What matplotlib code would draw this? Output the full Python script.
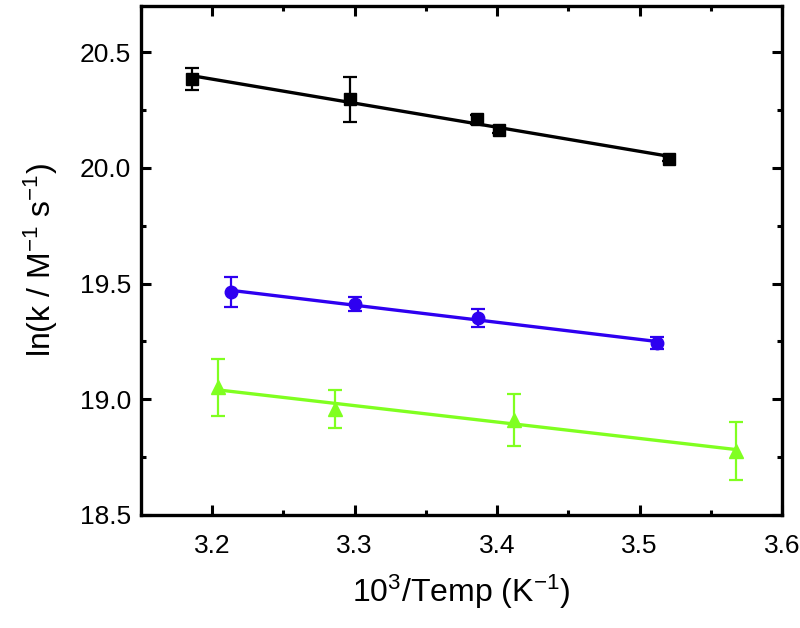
import numpy as np
import matplotlib.pyplot as plt
from matplotlib.ticker import MultipleLocator

plt.rcParams['font.family'] = ['Liberation Sans', 'DejaVu Sans']
plt.rcParams['mathtext.fontset'] = 'custom'
plt.rcParams['mathtext.rm'] = 'Liberation Sans'
plt.rcParams['mathtext.default'] = 'regular'

# black squares
x_sq = [3.186, 3.297, 3.386, 3.4015, 3.521]
y_sq = [20.385, 20.297, 20.21, 20.165, 20.04]
e_sq = [0.048, 0.097, 0.02, 0.015, 0.01]

# blue circles
x_ci = [3.2136, 3.300, 3.387, 3.512]
y_ci = [19.463, 19.412, 19.352, 19.243]
e_ci = [0.064, 0.032, 0.040, 0.025]

# green triangles
x_tr = [3.204, 3.286, 3.412, 3.568]
y_tr = [19.051, 18.960, 18.910, 18.778]
e_tr = [0.122, 0.082, 0.111, 0.125]

series = [
    (x_sq, y_sq, e_sq, 's', 'black', 8.5),
    (x_ci, y_ci, e_ci, 'o', '#2e00f0', 9),
    (x_tr, y_tr, e_tr, '^', '#80ff20', 10.5),
]

fig = plt.figure(figsize=(8, 6.28), dpi=100)
ax = fig.add_axes([0.176, 0.18, 0.8015, 0.8104])

for xs, ys, es, mk, col, ms in series:
    ax.errorbar(xs, ys, yerr=es, fmt=mk, color=col, ms=ms, capsize=5,
                elinewidth=1.6, capthick=1.6, zorder=3)
    k, b = np.polyfit(xs, ys, 1)
    xx = np.array([min(xs), max(xs)])
    ax.plot(xx, k * xx + b, color=col, lw=2.4, zorder=2)

ax.set_xlim(3.15, 3.6)
ax.set_ylim(18.5, 20.7)
ax.xaxis.set_minor_locator(MultipleLocator(0.05))
ax.yaxis.set_minor_locator(MultipleLocator(0.25))
ax.set_xticks([3.2, 3.3, 3.4, 3.5, 3.6])
ax.set_xticklabels(['3.2', '3.3', '3.4', '3.5', '3.6'])
ax.set_yticks([18.5, 19.0, 19.5, 20.0, 20.5])
ax.set_yticklabels(['18.5', '19.0', '19.5', '20.0', '20.5'])

for s in ax.spines.values():
    s.set_linewidth(2.4)
ax.tick_params(which='both', direction='in', top=True, right=True, width=2.2,
               labelsize=19)
ax.tick_params(which='major', length=7)
ax.tick_params(axis='x', which='major', pad=14)
ax.tick_params(axis='y', which='major', pad=7)
ax.tick_params(which='minor', length=3.5)

ax.set_xlabel('10$^{3}$/Temp (K$^{-1}$)', fontsize=23, labelpad=10)
ax.set_ylabel('ln(k / M$^{-1}$ s$^{-1}$)', fontsize=23, labelpad=14)

fig.savefig('out.png', dpi=100)
